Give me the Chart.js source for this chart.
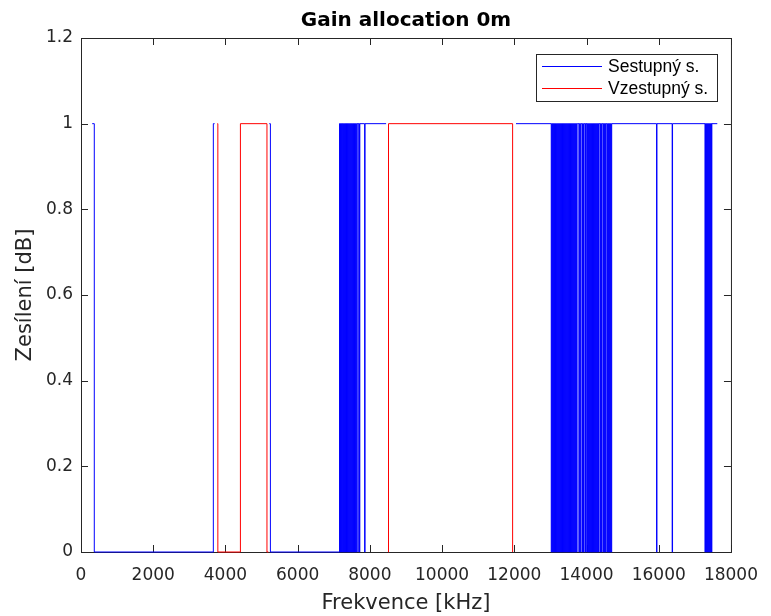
<!DOCTYPE html>
<html><head><meta charset="utf-8">
<script src="https://cdn.jsdelivr.net/npm/chart.js@4/dist/chart.umd.min.js"></script>
<style>html,body{margin:0;padding:0;background:#fff}#wrap{width:771px;height:616px;position:relative}</style>
</head><body><div id="wrap"><canvas id="c" width="771" height="616"></canvas></div>
<script>
const titleText = "Gain allocation 0m";
const xLabel = "Frekvence [kHz]";
const yLabel = "Zesílení [dB]";
const seriesNames = ["Sestupný s.", "Vzestupný s."];
const seriesColors = ["#0000ff", "#ff0000"];
const xTicks = [0, 2000, 4000, 6000, 8000, 10000, 12000, 14000, 16000, 18000];
const yTicks = [0, 0.2, 0.4, 0.6, 0.8, 1, 1.2];

// Downstream (Sestupný) breakpoints: value holds from this frequency until the next one; null = band gap
const downFreq = [
  310, 368, 3665, 3700, 3720,
  5215, 5245, 7160, 7172, 7185, 7196, 7212, 7225, 7236, 7250, 7263, 7274, 7290, 7301, 7315, 7328, 7340, 7353,
  7366, 7379, 7392, 7404, 7418, 7430, 7444, 7457, 7470, 7483, 7496, 7508, 7522, 7535, 7548, 7561, 7574, 7587,
  7600, 7614, 7628, 7668, 7676, 7712, 7722, 7855, 7866, 8450, 8460,
  12047, 13023, 13036, 13049, 13061, 13075, 13088, 13100, 13114, 13127, 13140, 13152, 13166, 13178, 13192, 13205,
  13218, 13231, 13244, 13257, 13270, 13283, 13296, 13309, 13322, 13335, 13348, 13361, 13374, 13387, 13400, 13413,
  13426, 13439, 13452, 13465, 13478, 13491, 13504, 13517, 13530, 13543, 13556, 13569, 13582, 13595, 13608, 13621,
  13634, 13647, 13660, 13673, 13686, 13699, 13712, 13725, 13738, 13750,
  13789, 13803, 13817, 13831, 13872, 13888, 13903, 13917, 13955, 13968, 13976, 13984,
  14010, 14023, 14036, 14049, 14062, 14075, 14088, 14101, 14114, 14127, 14140, 14153, 14166, 14179, 14192, 14205,
  14218, 14231, 14244, 14257, 14270, 14283, 14296, 14309, 14320, 14331,
  14370, 14385, 14400, 14414, 14453, 14466, 14479, 14492, 14505, 14518, 14531, 14544,
  14580, 14593, 14606, 14619, 14632, 14645, 14658, 14671, 14684, 14697,
  15940, 15950, 16372, 16382,
  17281, 17294, 17307, 17320, 17333, 17346, 17359, 17372, 17385, 17398, 17411, 17424, 17437, 17450, 17463, 17470, 17622
];
const downGain = [
  1, 0, 1, 1, null,
  1, 0, 1, 0, 1, 0, 1, 0, 1, 0, 1, 0, 1, 0, 1, 0, 1, 0,
  1, 0, 1, 0, 1, 0, 1, 0, 1, 0, 1, 0, 1, 0, 1, 0, 1, 0,
  1, 0, 1, 0, 1, 0, 1, 0, 1, 1, null,
  1, 0, 1, 0, 1, 0, 1, 0, 1, 0, 1, 0, 1, 0, 1, 0,
  1, 0, 1, 0, 1, 0, 1, 0, 1, 0, 1, 0, 1, 0, 1, 0,
  1, 0, 1, 0, 1, 0, 1, 0, 1, 0, 1, 0, 1, 0, 1, 0,
  1, 0, 1, 0, 1, 0, 1, 0, 1, 1,
  0, 1, 0, 1, 0, 1, 0, 1, 0, 1, 0, 1,
  0, 1, 0, 1, 0, 1, 0, 1, 0, 1, 0, 1, 0, 1, 0, 1,
  0, 1, 0, 1, 0, 1, 0, 1, 0, 1,
  0, 1, 0, 1, 0, 1, 0, 1, 0, 1, 0, 1,
  0, 1, 0, 1, 0, 1, 0, 1, 0, 1,
  0, 1, 0, 1,
  0, 1, 0, 1, 0, 1, 0, 1, 0, 1, 0, 1, 0, 1, 0, 1, 1
];

// Upstream (Vzestupný) breakpoints
const upFreq = [3775, 3790, 4415, 5150, 5190, 5200, 8500, 8516, 11953];
const upGain = [1, 0, 1, 0, 0, null, 0, 1, 0];

function toPoints(f, g) { return f.map((x, i) => ({ x: x, y: g[i] })); }

const AX = '#262626';

const decor = {
  id: 'decor',
  beforeDatasetsDraw(chart) {
    const { ctx, chartArea: a, scales } = chart;
    ctx.save();
    ctx.strokeStyle = AX;
    ctx.lineWidth = 1;
    ctx.strokeRect(a.left + 0.5, a.top + 0.5, a.right - a.left, a.bottom - a.top);
    const tl = 7;
    ctx.beginPath();
    xTicks.forEach(v => {
      const px = Math.round(scales.x.getPixelForValue(v)) + 0.5;
      ctx.moveTo(px, a.bottom); ctx.lineTo(px, a.bottom - tl);
      ctx.moveTo(px, a.top); ctx.lineTo(px, a.top + tl);
    });
    yTicks.forEach(v => {
      const py = Math.round(scales.y.getPixelForValue(v)) + 0.5;
      ctx.moveTo(a.left, py); ctx.lineTo(a.left + tl, py);
      ctx.moveTo(a.right, py); ctx.lineTo(a.right - tl, py);
    });
    ctx.stroke();
    ctx.restore();
  },
  afterDraw(chart) {
    const { ctx, chartArea: a } = chart;
    ctx.save();
    ctx.fillStyle = '#000';
    ctx.font = 'bold 20px "DejaVu Sans"';
    ctx.textAlign = 'center';
    ctx.textBaseline = 'middle';
    ctx.fillText(titleText, (a.left + a.right) / 2, 21);
    ctx.fillStyle = AX;
    ctx.font = '21px "DejaVu Sans"';
    ctx.fillText(xLabel, (a.left + a.right) / 2, 604);
    ctx.save();
    ctx.translate(26, (a.top + a.bottom) / 2);
    ctx.rotate(-Math.PI / 2);
    ctx.fillText(yLabel, 0, 0);
    ctx.restore();
    const lx = 536, ly = 54, lw = 181, lh = 47;
    ctx.fillStyle = '#fff';
    ctx.fillRect(lx, ly, lw, lh);
    ctx.strokeStyle = AX;
    ctx.lineWidth = 1;
    ctx.strokeRect(lx + 0.5, ly + 0.5, lw, lh);
    const rows = [66, 88];
    ctx.font = '17.5px "Liberation Sans"';
    ctx.textAlign = 'left';
    ctx.textBaseline = 'middle';
    seriesNames.forEach((n, i) => {
      ctx.strokeStyle = seriesColors[i];
      ctx.beginPath();
      ctx.moveTo(542, rows[i] + 0.5); ctx.lineTo(602, rows[i] + 0.5);
      ctx.stroke();
      ctx.fillStyle = '#000';
      ctx.fillText(n, 608, rows[i] + 1);
    });
    ctx.restore();
  }
};

new Chart(document.getElementById('c'), {
  type: 'line',
  data: {
    datasets: [
      { label: seriesNames[0], data: toPoints(downFreq, downGain), borderColor: seriesColors[0], borderWidth: 1, stepped: 'before', pointRadius: 0, spanGaps: false, clip: false, order: 1 },
      { label: seriesNames[1], data: toPoints(upFreq, upGain), borderColor: seriesColors[1], borderWidth: 1, stepped: 'before', pointRadius: 0, spanGaps: false, clip: false, order: 0 }
    ]
  },
  options: {
    responsive: false,
    animation: false,
    devicePixelRatio: 1,
    layout: { padding: { left: 0, top: 38, right: 39, bottom: 0 } },
    plugins: { legend: { display: false }, title: { display: false }, tooltip: { enabled: false } },
    scales: {
      x: {
        type: 'linear', min: 0, max: 18000,
        afterBuildTicks: s => { s.ticks = xTicks.map(v => ({ value: v })); },
        afterFit: s => { s.height = 64; },
        ticks: { font: { family: 'DejaVu Sans', size: 17 }, color: AX, padding: 13, maxRotation: 0, autoSkip: false, callback: v => String(v) },
        grid: { display: false, drawTicks: false },
        border: { display: false }
      },
      y: {
        type: 'linear', min: 0, max: 1.2,
        afterBuildTicks: s => { s.ticks = yTicks.map(v => ({ value: v })); },
        afterFit: s => { s.width = 81; },
        ticks: { font: { family: 'DejaVu Sans', size: 17 }, color: AX, padding: 8, autoSkip: false, callback: v => String(Math.round(v * 10) / 10) },
        grid: { display: false, drawTicks: false },
        border: { display: false }
      }
    }
  },
  plugins: [decor]
});
</script>
</body></html>
